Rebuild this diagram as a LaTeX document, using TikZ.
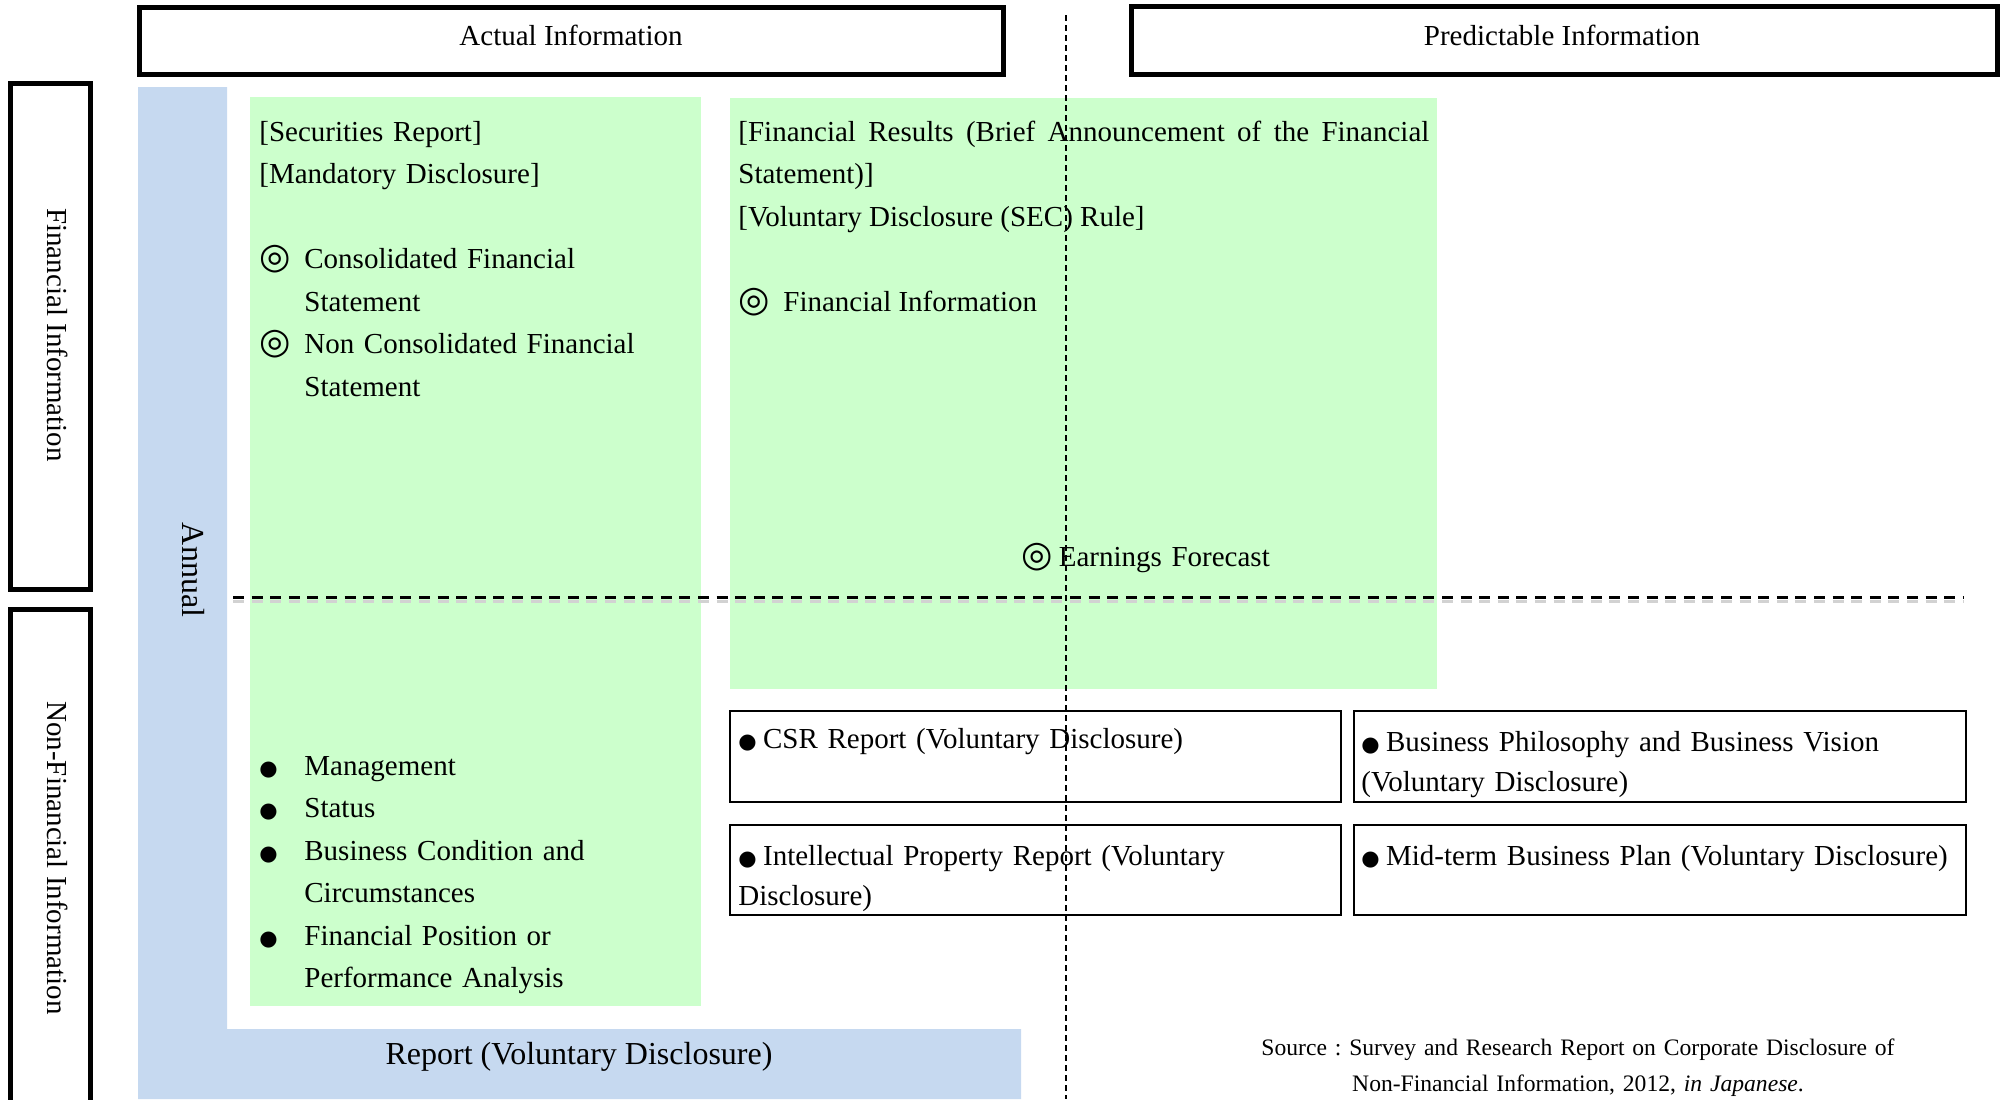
\documentclass[tikz,border=0pt]{standalone}
\usepackage{fontspec}
\setmainfont{Liberation Serif}
\newfontfamily\symfont{DejaVu Sans}
\usepackage{xcolor}
\usepackage{tikz}
\frenchspacing

\definecolor{mintgreen}{RGB}{204,255,204}
\definecolor{paleblue}{RGB}{198,217,240}
\newcommand{\dcirc}{{\symfont\fontsize{18pt}{18pt}\selectfont ◎}}
\newcommand{\bdot}{{\symfont\fontsize{10.5pt}{10.5pt}\selectfont ●}}
\newcommand{\itm}[1]{\makebox[22.5pt][l]{#1}}

\begin{document}
\begin{tikzpicture}[x=0.5pt, y=-0.5pt, font=\fontsize{14.5pt}{21.25pt}\selectfont,
    frame/.style={draw, line width=2.5pt},
    notebox/.style={draw, line width=0.75pt},
    txt/.style={inner sep=0pt, anchor=base west, text width=#1, align=left},
    txt/.default=220pt,
    notetxt/.style={txt=300pt, font=\fontsize{14.5pt}{20pt}\selectfont}]
  \useasboundingbox (0,0) rectangle (2000,1099);

  % coloured areas
  \fill[paleblue] (138,87) -- (227,87) -- (227,1029) -- (1021,1029) -- (1021,1099) -- (138,1099) -- cycle;
  \fill[mintgreen] (250,97) rectangle (701,1006);
  \fill[mintgreen] (730,98) rectangle (1437,689);

  % headers and side frames
  \draw[frame] (139,7) rectangle (1003,74);
  \draw[frame] (1131,6) rectangle (1997,74);
  \draw[frame] (10,83) rectangle (90,589);
  \draw[frame] (10,609) rectangle (90,1110);
  \node[inner sep=0pt, anchor=base] (actual) at (571,45) {Actual Information};
  \node[inner sep=0pt, anchor=base] (predictable) at (1562,45) {Predictable Information};
  \node[inner sep=0pt, rotate=-90] (fin) at (58,335) {Financial Information};
  \node[inner sep=0pt, rotate=-90] (nonfin) at (58,858) {Non-Financial Information};
  \node[inner sep=0pt, rotate=-90, font=\fontsize{16pt}{19pt}\selectfont] (annual) at (193,570) {Annual};
  \node[inner sep=0pt, font=\fontsize{16pt}{19pt}\selectfont] (report) at (579,1057) {Report (Voluntary Disclosure)};

  % securities report
  \node[txt] (secrep) at (259,141) {{[}Securities Report{]}\\
    {[}Mandatory Disclosure{]}\\
    \mbox{}\\
    \itm{\dcirc}Consolidated Financial\\
    \itm{}Statement\\
    \itm{\dcirc}Non Consolidated Financial\\
    \itm{}Statement};
  \node[txt] (nfitems) at (259,775) {\itm{\bdot}Management\\
    \itm{\bdot}Status\\
    \itm{\bdot}Business Condition and\\
    \itm{}Circumstances\\
    \itm{\bdot}Financial Position or\\
    \itm{}Performance Analysis};

  % financial results
  \node[txt=345.5pt, align=justify] (finres) at (738,141)
    {{[}Financial Results (Brief Announcement of the Financial\linebreak
    Statement){]}\\
    {[}Voluntary Disclosure (SEC) Rule{]}\\
    \mbox{}\\
    \itm{\dcirc}Financial Information};
  \node[txt] (forecast) at (1021,566) {\dcirc\hspace{3pt}Earnings Forecast};

  % voluntary reports
  \draw[notebox] (730,711) rectangle (1341,802);
  \draw[notebox] (1354,711) rectangle (1966,802);
  \draw[notebox] (730,825) rectangle (1341,915);
  \draw[notebox] (1354,825) rectangle (1966,915);
  \node[notetxt] (csr) at (738,748) {\bdot\hspace{3.2pt}CSR Report (Voluntary Disclosure)};
  \node[notetxt] (philo) at (1361,751) {\bdot\hspace{3.2pt}Business Philosophy and Business Vision\\(Voluntary Disclosure)};
  \node[notetxt] (ipr) at (738,865) {\bdot\hspace{3.2pt}Intellectual Property Report (Voluntary\\Disclosure)};
  \node[notetxt] (midterm) at (1361,865) {\bdot\hspace{3.2pt}Mid-term Business Plan (Voluntary Disclosure)};

  \node[inner sep=0pt, anchor=base, text width=340pt, align=center, font=\fontsize{11.8pt}{18pt}\selectfont] (source) at (1578,1055)
    {Source : Survey and Research Report on Corporate Disclosure of\\
    Non-Financial Information, 2012, \textit{in Japanese}.};

  % dividing lines
  \draw[gray!35, line width=1.5pt, dash pattern=on 5.5pt off 3.8pt] (233,601) -- (1963,601);
  \draw[line width=1.5pt, dash pattern=on 5.5pt off 3.8pt] (233,597) -- (1963,597);
  \draw[line width=0.75pt, dash pattern=on 3pt off 2pt] (1066,15) -- (1066,1099);
\end{tikzpicture}
\end{document}
